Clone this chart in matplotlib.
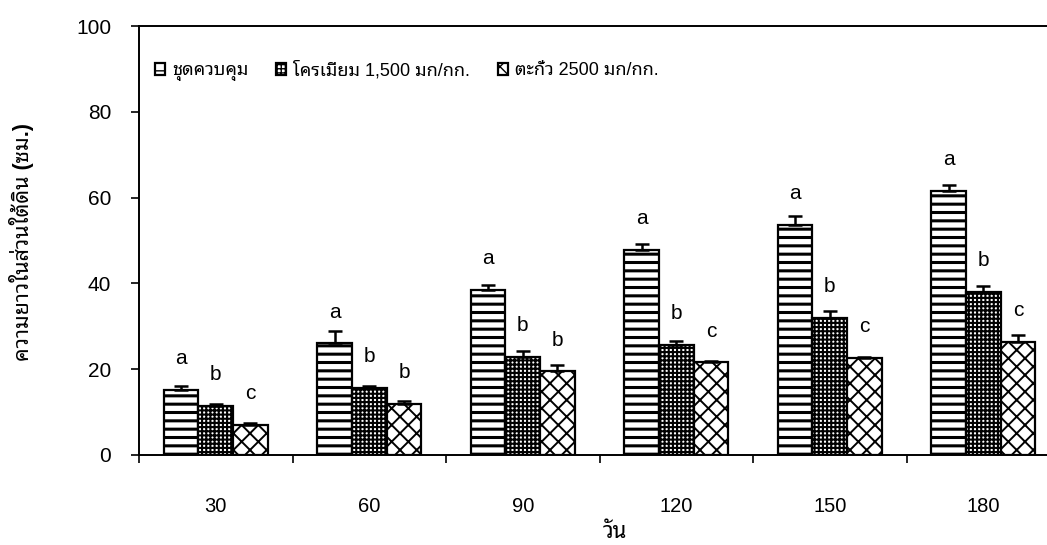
import matplotlib
matplotlib.use('Agg')
import matplotlib.pyplot as plt
import numpy as np

plt.rcParams['font.family'] = ['Liberation Sans', 'Noto Sans Thai Looped', 'DejaVu Sans']

# root length (cm) by day, three treatments
days = ['30', '60', '90', '120', '150', '180']
series_names = ['ชุดควบคุม', 'โครเมียม 1,500 มก/กก.', 'ตะกั่ว 2500 มก/กก.']
control = [15.1, 26.0, 38.5, 47.9, 53.7, 61.5]
control_err = [0.9, 2.9, 1.2, 1.2, 2.1, 1.4]
chromium = [11.5, 15.7, 22.9, 25.6, 31.9, 38.1]
chromium_err = [0.5, 0.5, 1.4, 1.0, 1.6, 1.2]
lead = [7.1, 11.9, 19.5, 21.6, 22.6, 26.4]
lead_err = [0.3, 0.7, 1.4, 0.4, 0.3, 1.5]
control_letters = ['a', 'a', 'a', 'a', 'a', 'a']
chromium_letters = ['b', 'b', 'b', 'b', 'b', 'b']
lead_letters = ['c', 'b', 'b', 'c', 'c', 'c']

fig = plt.figure(figsize=(10.47, 5.45), dpi=100)
ax = fig.add_axes([139 / 1047, 90 / 545, 921 / 1047, 429 / 545])

x = np.arange(len(days))
w = 0.226
styles = [('--', 2.2), ('++++', 1.5), ('xx', 1.4)]
groups = [(control, control_err, control_letters),
          (chromium, chromium_err, chromium_letters),
          (lead, lead_err, lead_letters)]

handles = []
for i, (vals, errs, letters) in enumerate(groups):
    pos = x + (i - 1) * w
    hatch, hlw = styles[i]
    bars = ax.bar(pos, vals, w, color='white', edgecolor='black', linewidth=1.6,
                  hatch=hatch, label=series_names[i], zorder=2)
    for b in bars:
        if hasattr(b, 'set_hatch_linewidth'):
            b.set_hatch_linewidth(hlw)
    handles.append(bars)
    ax.errorbar(pos, vals, yerr=[np.zeros(len(vals)), errs], fmt='none',
                ecolor='black', elinewidth=1.8, capsize=5, capthick=1.8, zorder=3)
    for xp, v, t in zip(pos, vals, letters):
        ax.text(xp, v + 7.3, t, ha='center', va='center', fontsize=15)

ax.set_xlim(-0.5, len(days) - 0.5)
ax.set_ylim(0, 100)
ax.set_yticks(np.arange(0, 101, 20))
ax.tick_params(axis='y', direction='out', length=6, width=1.2, labelsize=15, pad=14)

# group labels centred, tick marks on group boundaries
ax.set_xticks(x)
ax.set_xticklabels(days)
ax.tick_params(axis='x', which='major', length=0, labelsize=14.5, pad=30)
ax.set_xticks(np.arange(-0.5, len(days), 1.0), minor=True)
ax.tick_params(axis='x', which='minor', direction='out', length=6, width=1.2)

for side in ['left', 'bottom', 'top']:
    ax.spines[side].set_linewidth(1.4)
ax.spines['right'].set_visible(False)

leg = ax.legend(handles=handles, ncol=3, loc='center left', bbox_to_anchor=(0.017, 0.895),
                frameon=False, fontsize=13, handlelength=0.55, handleheight=0.7,
                handletextpad=0.4, columnspacing=1.55, borderpad=0, borderaxespad=0)

fig.text(22 / 1047, 1 - 242 / 545, 'ความยาวในส่วนใต้ดิน (ซม.)', rotation=90,
         ha='center', va='center', fontsize=15.5, fontweight='bold')
fig.text(615 / 1047, 1 - 533 / 545, 'วัน', ha='center', va='center',
         fontsize=16, fontweight='bold')

fig.savefig('out.png', dpi=100)
